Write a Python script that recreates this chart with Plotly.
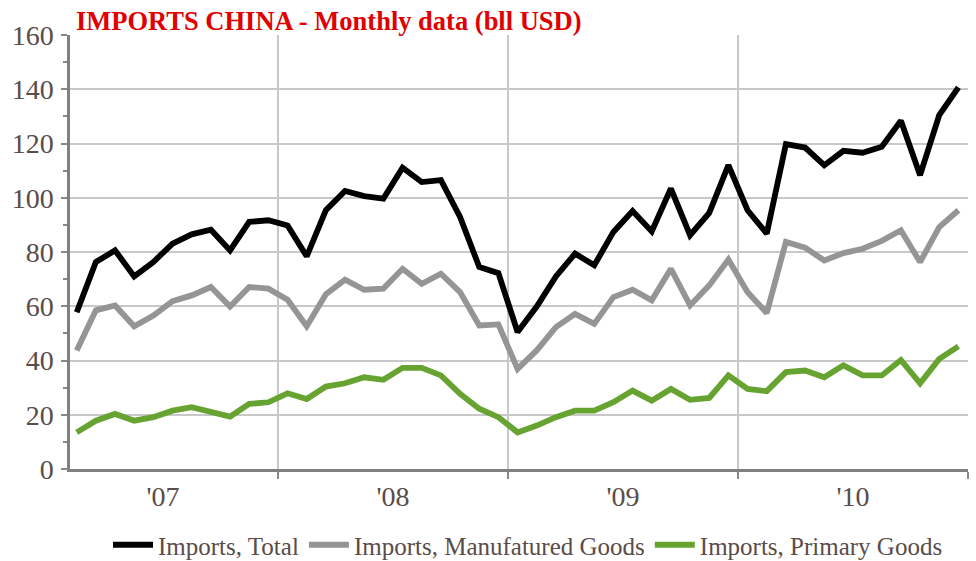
import plotly.graph_objects as go

# Months Feb 2007 .. Dec 2010 (index 1 = Feb 2007, Jan 2007 = 0)
month_index = list(range(1, 48))

imports_total = [57.8, 76.3, 80.6, 71.0, 76.3, 83.1, 86.5, 88.2, 80.6, 91.1, 91.7,
                 89.8, 78.4, 95.4, 102.5, 100.6, 99.7, 111.1, 105.8, 106.5, 92.9, 74.5, 72.2,
                 50.5, 59.9, 71.0, 79.4, 75.1, 87.4, 95.1, 87.6, 103.4, 86.2, 94.4, 112.0,
                 95.4, 86.8, 119.8, 118.5, 112.0, 117.3, 116.6, 118.8, 128.4, 108.3, 130.5, 140.7]
imports_manuf = [43.7, 58.5, 60.3, 52.6, 56.6, 61.9, 64.0, 67.1, 59.9, 67.1, 66.5,
                 62.4, 52.6, 64.4, 69.8, 66.1, 66.5, 73.8, 68.3, 72.0, 65.2, 52.9, 53.3,
                 36.9, 43.7, 52.3, 57.2, 53.5, 63.4, 66.1, 62.2, 73.8, 60.3, 67.7, 77.2,
                 65.2, 57.5, 83.7, 81.6, 76.9, 79.6, 81.2, 84.1, 88.0, 76.3, 89.2, 95.4]
imports_primary = [13.5, 17.8, 20.3, 17.8, 19.1, 21.5, 22.8, 20.9, 19.3, 24.0, 24.6,
                   27.9, 25.8, 30.4, 31.6, 33.8, 32.9, 37.3, 37.3, 34.5, 27.7, 22.2, 19.1,
                   13.5, 16.0, 19.1, 21.5, 21.5, 24.6, 28.9, 25.2, 29.5, 25.5, 26.2, 34.5,
                   29.5, 28.7, 35.7, 36.3, 33.8, 38.2, 34.5, 34.5, 40.2, 31.6, 40.6, 45.2]

year_labels = ["'07", "'08", "'09", "'10"]
year_centers = [5.5, 17.5, 29.5, 41.5]
year_bounds = [11.5, 23.5, 35.5, 47.5]

series_names = ["Imports, Total", "Imports, Manufatured Goods", "Imports, Primary Goods"]
series_colors = ["#000000", "#959595", "#67a331"]

FONT = "Liberation Serif"
TXT = "#5a4c48"

fig = go.Figure()
for name, vals, col in zip(series_names, [imports_total, imports_manuf, imports_primary], series_colors):
    fig.add_trace(go.Scatter(x=month_index, y=vals, mode="lines", name=name,
                             line=dict(color=col, width=5.8)))

# invisible trace on the label axis
fig.add_trace(go.Scatter(x=year_centers, y=[None]*4, xaxis="x2", showlegend=False,
                         hoverinfo="skip"))

xr = [0.65, 47.5]
fig.update_layout(
    width=976, height=561,
    paper_bgcolor="white", plot_bgcolor="white",
    margin=dict(l=70, r=8, t=35, b=92, autoexpand=False),
    font=dict(family=FONT, color=TXT),
    title=dict(text="<b>IMPORTS CHINA - Monthly data (bll USD)</b>",
               font=dict(family=FONT, size=26.5, color="#e00000"),
               x=76/976, xanchor="left", xref="container", pad=dict(l=0, r=0, t=0, b=0),
               y=1-21/561, yanchor="middle"),
    xaxis=dict(range=xr, tickmode="array", tickvals=year_bounds, ticktext=["", "", "", ""],
               showgrid=True, gridcolor="#c8c8c8", gridwidth=2,
               ticks="outside", ticklen=7, tickwidth=2, tickcolor="#888888",
               showline=True, linecolor="#808080", linewidth=2.5, zeroline=False,
               automargin=False),
    xaxis2=dict(range=xr, overlaying="x", side="bottom", tickmode="array",
                tickvals=year_centers, ticktext=year_labels, showgrid=False,
                ticks="", showline=False, zeroline=False, ticklabelstandoff=8,
                tickfont=dict(family=FONT, size=28, color=TXT), automargin=False),
    yaxis=dict(range=[0, 160], tickmode="linear", tick0=0, dtick=20,
               showgrid=True, gridcolor="#c8c8c8", gridwidth=2,
               ticks="outside", ticklen=6, tickwidth=2, tickcolor="#888888",
               showline=True, linecolor="#808080", linewidth=2.5, zeroline=False,
               tickfont=dict(family=FONT, size=28, color=TXT), automargin=False,
               ticklabelstandoff=2,
               minor=dict(dtick=10, ticks="outside", ticklen=4, tickcolor="#888888", tickwidth=1.5,
                          showgrid=False)),
    legend=dict(orientation="h", x=(108-70)/898, xanchor="left", y=-(545-469)/434, yanchor="middle",
                font=dict(family=FONT, size=25, color=TXT), itemwidth=40,
                bgcolor="rgba(0,0,0,0)"),
    showlegend=True,
)

fig.write_html("out.html", config={"displayModeBar": False},
               post_script="document.body.style.margin='0';")
